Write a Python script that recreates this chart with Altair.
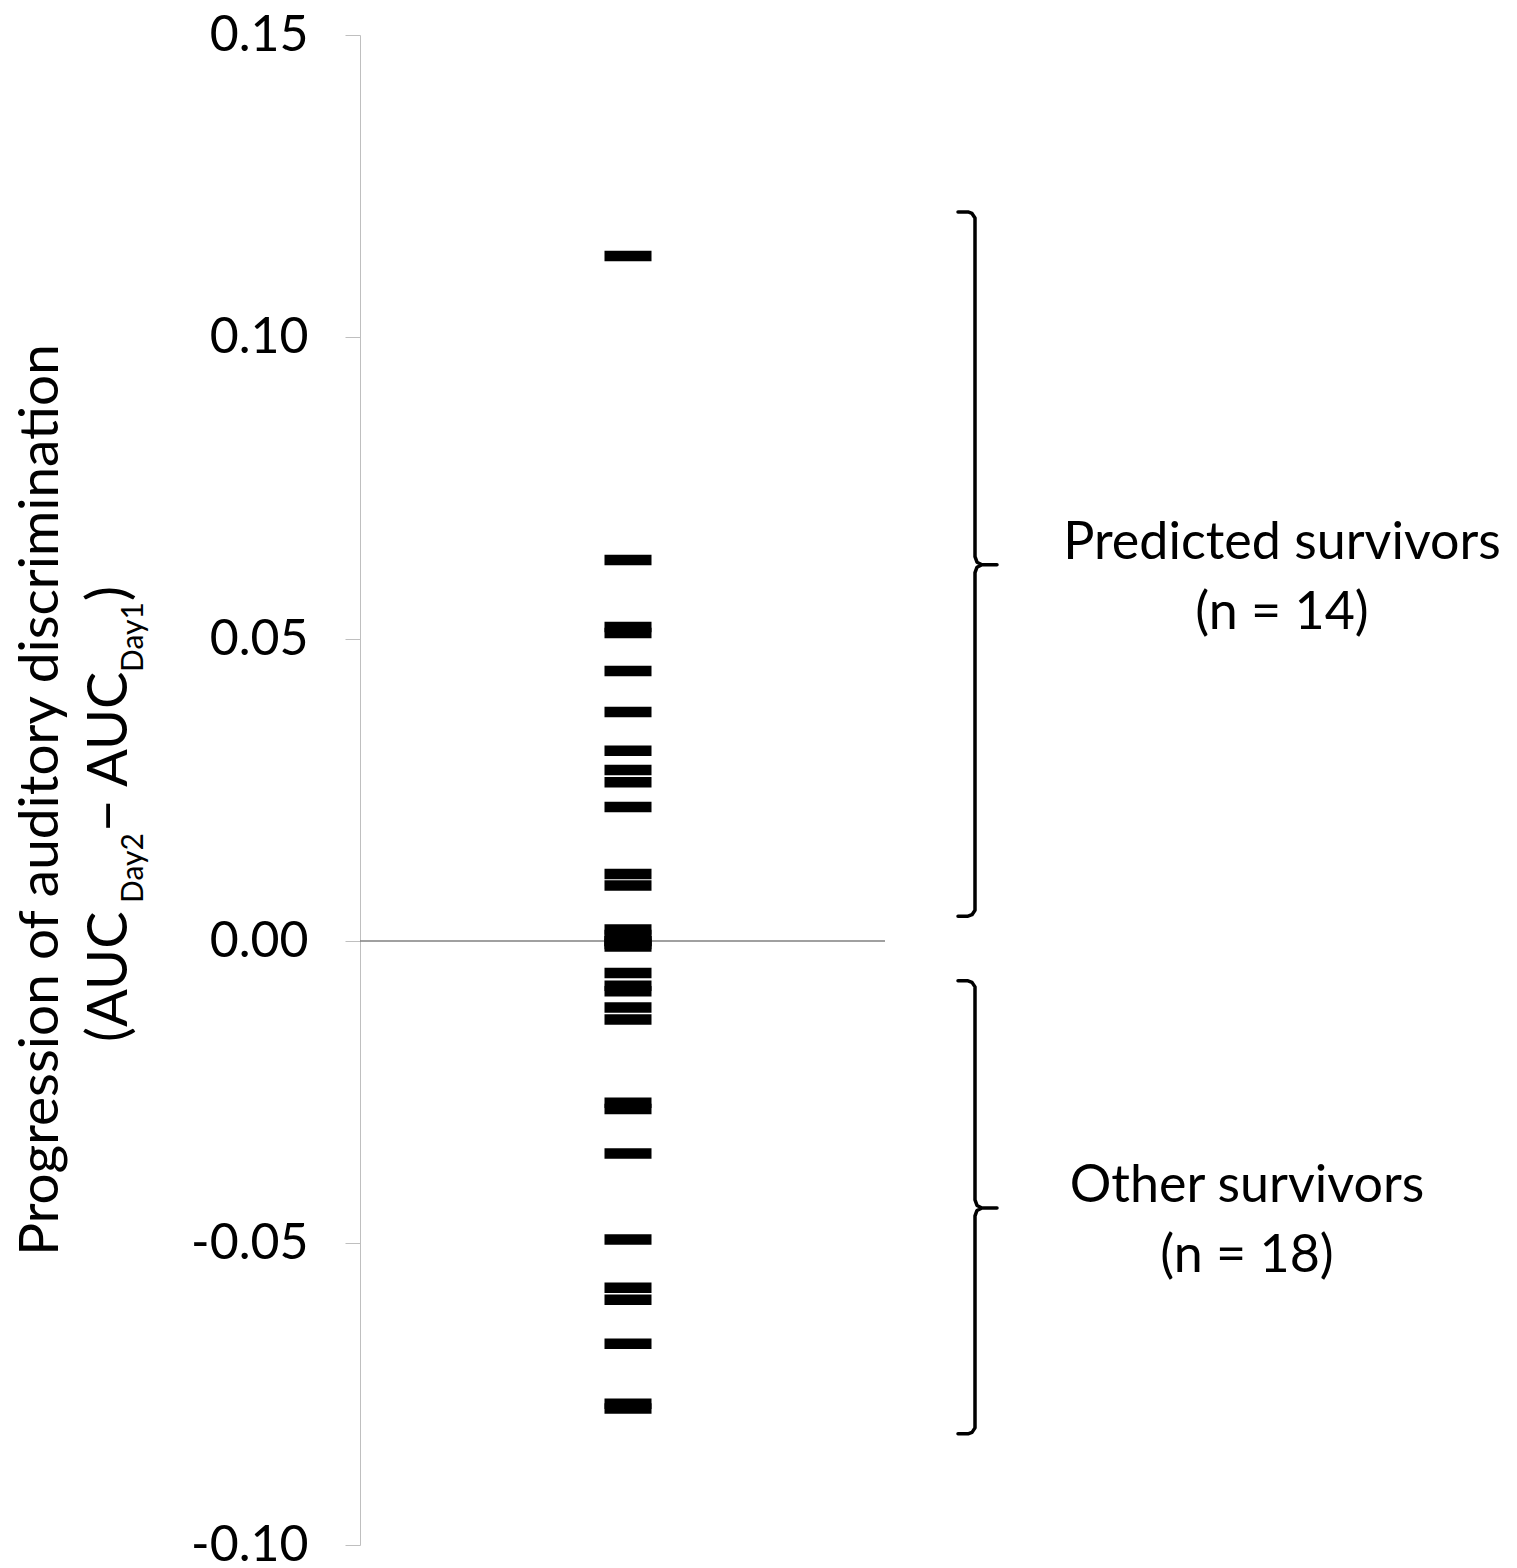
import altair as alt
import pandas as pd

# ---- data ----
predicted = [0.1134, 0.0631, 0.0520, 0.0510, 0.0447, 0.0379, 0.0315, 0.0283,
             0.0263, 0.0222, 0.0111, 0.0092, 0.0019, 0.0010]
others = [0.0000, 0.0000, -0.0005, -0.0009, -0.0053, -0.0074, -0.0083, -0.0110,
          -0.0130, -0.0268, -0.0278, -0.0352, -0.0494, -0.0574, -0.0594, -0.0667,
          -0.0766, -0.0774]
y_ticks = [-0.10, -0.05, 0.00, 0.05, 0.10, 0.15]

group_names = ["Predicted survivors", "Other survivors"]
group_n = ["(n = 14)", "(n = 18)"]
brace_top = [0.1207, -0.0066]
brace_bottom = [0.0041, -0.0816]
brace_mid = [0.0623, -0.0442]

FONT = "Lato"
W, H = 1149, 1510
Y_MIN, Y_MAX = -0.10, 0.15
K = (Y_MAX - Y_MIN) / H  # data units per pixel (for small brace curls)

values = pd.DataFrame({"v": predicted + others})

yscale = alt.Scale(domain=[Y_MIN, Y_MAX], nice=False, zero=False)

dashes = alt.Chart(values).mark_tick(
    orient="horizontal", size=47, thickness=10.5, color="black", opacity=1
).encode(
    x=alt.value(268),
    y=alt.Y("v:Q", scale=yscale,
            axis=alt.Axis(values=y_ticks, tickSize=15, tickColor="#bfbfbf",
                          domainColor="#bfbfbf", tickWidth=1, domainWidth=1,
                          labelFont=FONT, labelFontSize=50, labelColor="black",
                          labelPadding=37, grid=False, title=None,
                          labelExpr="replace(format(datum.value, '.2f'), '\u2212', '-')")),
)

zero_line = alt.Chart(pd.DataFrame({"z": [0.0]})).mark_rule(
    color="#808080", strokeWidth=1.5
).encode(y=alt.Y("z:Q", scale=yscale), x=alt.value(0), x2=alt.value(525))

# ---- curly-bracket annotations (x in pixels, y in data units) ----
SPINE, HOOK, TIP = 615, 598, 637
rows = []
for g in range(2):
    t, b, m = brace_top[g], brace_bottom[g], brace_mid[g]
    path = [
        (HOOK, t), (608, t), (612, t - 1.5 * K), (SPINE, t - 6 * K),
        (SPINE, m + 8 * K), (617, m + 2.5 * K), (622, m), (TIP, m),
        (622, m), (617, m - 2.5 * K), (SPINE, m - 8 * K),
        (SPINE, b + 6 * K), (612, b + 1.5 * K), (608, b), (HOOK, b),
    ]
    for i, (px, py) in enumerate(path):
        rows.append({"g": g, "i": i, "px": px, "py": py})
brace_df = pd.DataFrame(rows)
braces = alt.Chart(brace_df).mark_line(
    color="black", strokeWidth=3.5, strokeJoin="round", strokeCap="round"
).encode(
    x=alt.X("px:Q", scale=None),
    y=alt.Y("py:Q", scale=yscale),
    detail="g:N",
    order="i:Q",
)

label_x = [922, 887]
label_layers = []
for i in range(2):
    d = pd.DataFrame({"name": [group_names[i]], "n": [group_n[i]], "mid": [brace_mid[i]]})
    label_layers.append(alt.Chart(d).mark_text(
        font=FONT, fontSize=52, color="black", align="center", baseline="alphabetic", dy=-6
    ).encode(y=alt.Y("mid:Q", scale=yscale), x=alt.value(label_x[i]), text="name:N"))
    label_layers.append(alt.Chart(d).mark_text(
        font=FONT, fontSize=52, color="black", align="center", baseline="alphabetic", dy=64
    ).encode(y=alt.Y("mid:Q", scale=yscale), x=alt.value(label_x[i]), text="n:N"))

# ---- y-axis title (rotated, with subscripts) ----
title_layers = [
    alt.Chart(pd.DataFrame({"t": ["Progression of auditory discrimination"]})).mark_text(
        font=FONT, fontSize=55, color="black", angle=270, align="center", baseline="middle"
    ).encode(x=alt.value(-319), y=alt.value(765), text="t:N")
]
pieces = [
    ("(AUC", 56, -250, 1007),
    ("Day2", 30, -226, 868),
    ("\u2212 AUC", 56, -250, 797),
    ("Day1", 30, -226, 637),
    (")", 56, -250, 566),
]
for txt, fs, px, py in pieces:
    title_layers.append(
        alt.Chart(pd.DataFrame({"t": [txt]})).mark_text(
            font=FONT, fontSize=fs, color="black", angle=270, align="left", baseline="middle"
        ).encode(x=alt.value(px), y=alt.value(py), text="t:N")
    )

chart = alt.layer(
    zero_line, dashes, braces, *label_layers, *title_layers
).properties(
    width=W, height=H,
    background="white",
    autosize=alt.AutoSizeParams(type="none"),
    padding={"left": 352, "top": 27, "right": 0, "bottom": 22},
).configure_view(stroke=None)

chart.save("out.html", embed_options={"renderer": "svg", "actions": False})
